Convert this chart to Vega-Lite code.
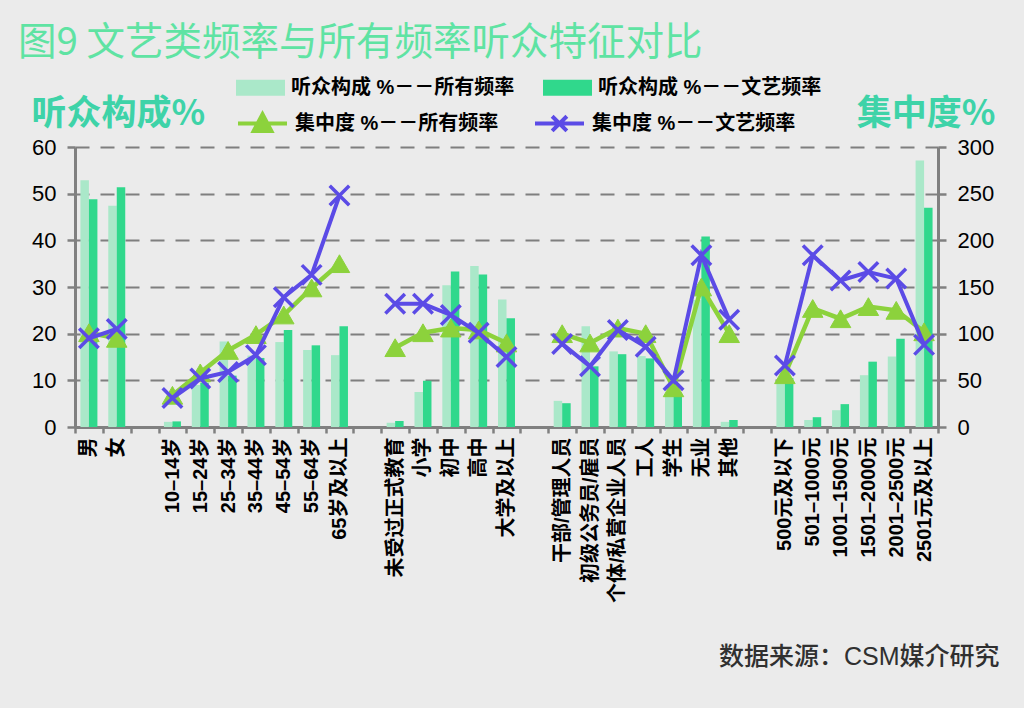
{
  "$schema": "https://vega.github.io/schema/vega-lite/v6.json",
  "width": 863,
  "height": 280,
  "autosize": {"type": "none"},
  "padding": {"left": 75, "top": 147, "right": 86, "bottom": 281},
  "background": "#EBEBEB",
  "title": {
    "text": "图9 文艺类频率与所有频率听众特征对比",
    "anchor": "start",
    "frame": "group",
    "orient": "top",
    "dx": -57,
    "offset": 0,
    "font": "Noto Sans CJK SC",
    "fontSize": 38.5,
    "fontWeight": "normal",
    "color": "#5FE3A3"
  },
  "config": {
    "font": "Liberation Sans, Noto Sans CJK SC",
    "view": {"stroke": null},
    "axis": {
      "domainColor": "#808080",
      "domainWidth": 3,
      "tickColor": "#808080",
      "tickWidth": 2.5,
      "labelColor": "#000000",
      "labelFont": "Liberation Sans, Noto Sans CJK SC"
    },
    "legend": {
      "orient": "none",
      "padding": 0,
      "labelFont": "Liberation Sans, Noto Sans CJK SC",
      "labelFontSize": 20,
      "labelFontWeight": "bold",
      "labelColor": "#000000",
      "labelOffset": 6,
      "symbolSize": 2401,
      "columnPadding": 28,
      "direction": "horizontal",
      "columns": 2,
      "title": null,
      "labelLimit": 400
    }
  },
  "data": {
    "values": [
      {"c": "男", "g": "性别", "a": 52.9, "w": 48.8, "ca": 101, "cw": 95},
      {"c": "女", "g": "性别", "a": 47.4, "w": 51.4, "ca": 95, "cw": 105},
      {"c": "10–14岁", "g": "年龄", "a": 1.1, "w": 1.2, "ca": 34, "cw": 31},
      {"c": "15–24岁", "g": "年龄", "a": 9.0, "w": 9.5, "ca": 58, "cw": 52},
      {"c": "25–34岁", "g": "年龄", "a": 18.3, "w": 11.0, "ca": 82, "cw": 59},
      {"c": "35–44岁", "g": "年龄", "a": 15.3, "w": 14.8, "ca": 99, "cw": 77},
      {"c": "45–54岁", "g": "年龄", "a": 18.2, "w": 20.8, "ca": 120, "cw": 139},
      {"c": "55–64岁", "g": "年龄", "a": 16.5, "w": 17.5, "ca": 149, "cw": 163},
      {"c": "65岁及以上", "g": "年龄", "a": 15.4, "w": 21.6, "ca": 175, "cw": 248},
      {"c": "未受过正式教育", "g": "学历", "a": 0.9, "w": 1.3, "ca": 85, "cw": 132},
      {"c": "小学", "g": "学历", "a": 7.5, "w": 9.9, "ca": 101, "cw": 132},
      {"c": "初中", "g": "学历", "a": 30.4, "w": 33.3, "ca": 106, "cw": 120},
      {"c": "高中", "g": "学历", "a": 34.5, "w": 32.7, "ca": 104, "cw": 101},
      {"c": "大学及以上", "g": "学历", "a": 27.3, "w": 23.3, "ca": 90, "cw": 75},
      {"c": "干部/管理人员", "g": "职业", "a": 5.6, "w": 5.1, "ca": 100, "cw": 89},
      {"c": "初级公务员/雇员", "g": "职业", "a": 21.6, "w": 13.0, "ca": 90, "cw": 65},
      {"c": "个体/私营企业人员", "g": "职业", "a": 16.2, "w": 15.6, "ca": 106, "cw": 104},
      {"c": "工人", "g": "职业", "a": 15.2, "w": 14.7, "ca": 100, "cw": 86},
      {"c": "学生", "g": "职业", "a": 7.0, "w": 7.3, "ca": 42, "cw": 50},
      {"c": "无业", "g": "职业", "a": 27.2, "w": 40.8, "ca": 150, "cw": 184},
      {"c": "其他", "g": "职业", "a": 1.1, "w": 1.5, "ca": 100, "cw": 115},
      {"c": "500元及以下", "g": "收入", "a": 10.0, "w": 10.5, "ca": 56, "cw": 66},
      {"c": "501–1000元", "g": "收入", "a": 1.5, "w": 2.1, "ca": 127, "cw": 184},
      {"c": "1001–1500元", "g": "收入", "a": 3.6, "w": 4.9, "ca": 116, "cw": 157},
      {"c": "1501–2000元", "g": "收入", "a": 11.1, "w": 14.0, "ca": 129, "cw": 166},
      {"c": "2001–2500元", "g": "收入", "a": 15.1, "w": 18.9, "ca": 125, "cw": 159},
      {"c": "2501元及以上", "g": "收入", "a": 57.1, "w": 47.0, "ca": 102, "cw": 88}
    ]
  },
  "encoding": {
    "x": {
      "field": "c",
      "type": "nominal",
      "sort": null,
      "scale": {
        "domain": ["男", "女", " ", "10–14岁", "15–24岁", "25–34岁", "35–44岁", "45–54岁", "55–64岁", "65岁及以上", "  ", "未受过正式教育", "小学", "初中", "高中", "大学及以上", "   ", "干部/管理人员", "初级公务员/雇员", "个体/私营企业人员", "工人", "学生", "无业", "其他", "    ", "500元及以下", "501–1000元", "1001–1500元", "1501–2000元", "2001–2500元", "2501元及以上"],
        "paddingInner": 0,
        "paddingOuter": 0
      },
      "axis": {
        "labelAngle": 270,
        "labelAlign": "right",
        "labelBaseline": "middle",
        "labelFontSize": 20,
        "labelFontWeight": "bold",
        "labelPadding": 4,
        "labelOverlap": false,
        "labelLimit": 300,
        "tickSize": 6,
        "tickBand": "extent",
        "grid": false,
        "title": "数据来源：CSM媒介研究",
        "titleAnchor": "start",
        "titleAngle": 0,
        "titleAlign": "right",
        "titleBaseline": "middle",
        "titleX": 924,
        "titleY": 229,
        "titleFont": "Liberation Sans, Noto Sans CJK SC",
        "titleFontSize": 25,
        "titleFontWeight": 500,
        "titleColor": "#303030"
      }
    }
  },
  "layer": [
    {
      "transform": [{"fold": ["a", "w"], "as": ["s", "v"]}],
      "mark": {"type": "bar"},
      "encoding": {
        "xOffset": {
          "field": "s",
          "type": "nominal",
          "scale": {"domain": ["a", "w"], "paddingInner": 0, "paddingOuter": 0.64}
        },
        "y": {
          "field": "v",
          "type": "quantitative",
          "scale": {"domain": [0, 60], "nice": false},
          "axis": {
            "orient": "left",
            "values": [0, 10, 20, 30, 40, 50, 60],
            "labelFontSize": 22,
            "labelPadding": 11,
            "tickSize": 8,
            "grid": true,
            "gridDash": [14, 11],
            "gridColor": "#7F7F7F",
            "gridWidth": 2,
            "title": "听众构成%",
            "titleAngle": 0,
            "titleAlign": "left",
            "titleBaseline": "middle",
            "titleX": -44,
            "titleY": -34,
            "titleFont": "Noto Sans CJK SC",
            "titleFontSize": 35,
            "titleFontWeight": "bold",
            "titleColor": "#3ED3A8"
          }
        },
        "fill": {
          "field": "s",
          "type": "nominal",
          "scale": {"domain": ["a", "w"], "range": ["#AAE8C9", "#30D88C"]},
          "legend": {
            "legendX": 161,
            "legendY": -84,
            "symbolType": "M-1,-0.33H1V0.33H-1Z",
            "symbolStrokeWidth": 0,
            "labelExpr": "datum.value == 'a' ? '听众构成 %－－所有频率' : '听众构成 %－－文艺频率'"
          }
        }
      }
    },
    {
      "transform": [{"fold": ["ca", "cw"], "as": ["s", "v"]}],
      "encoding": {
        "y": {
          "field": "v",
          "type": "quantitative",
          "scale": {"domain": [0, 300], "nice": false},
          "axis": {
            "orient": "right",
            "values": [0, 50, 100, 150, 200, 250, 300],
            "labelFontSize": 22,
            "labelPadding": 11,
            "tickSize": 8,
            "grid": false,
            "title": "集中度%",
            "titleAngle": 0,
            "titleAlign": "right",
            "titleBaseline": "middle",
            "titleX": 57,
            "titleY": -34,
            "titleFont": "Noto Sans CJK SC",
            "titleFontSize": 35,
            "titleFontWeight": "bold",
            "titleColor": "#3ED3A8"
          }
        },
        "stroke": {
          "field": "s",
          "type": "nominal",
          "scale": {"domain": ["ca", "cw"], "range": ["#8CD23C", "#5B4BE6"]},
          "legend": {
            "legendX": 161,
            "legendY": -50,
            "symbolStrokeWidth": 4,
            "labelExpr": "datum.value == 'ca' ? '集中度 %－－所有频率' : '集中度 %－－文艺频率'",
            "encode": {
              "symbols": {
                "update": {
                  "shape": {"signal": "datum.value == 'ca' ? 'M-1,0H1M0,-0.38L0.36,0.3L-0.36,0.3Z' : 'M-1,0H1M-0.3,-0.3L0.3,0.3M-0.3,0.3L0.3,-0.3'"},
                  "fill": {"signal": "datum.value == 'ca' ? '#8CD23C' : 'transparent'"},
                  "strokeWidth": {"value": 4},
                  "opacity": {"value": 1}
                }
              }
            }
          }
        },
        "detail": {"field": "g", "type": "nominal"},
        "order": {"value": null}
      },
      "layer": [
        {
          "transform": [{"filter": "datum.s == 'ca'"}],
          "mark": {"type": "line", "strokeWidth": 4.5}
        },
        {
          "transform": [{"filter": "datum.s == 'ca'"}],
          "mark": {"type": "point", "shape": "triangle-up", "filled": true, "fill": "#8CD23C", "size": 420, "opacity": 1, "strokeWidth": 1}
        },
        {
          "transform": [{"filter": "datum.s == 'cw'"}],
          "mark": {"type": "line", "strokeWidth": 4}
        },
        {
          "transform": [{"filter": "datum.s == 'cw'"}],
          "mark": {"type": "point", "shape": "M-1,-1L1,1M-1,1L1,-1", "filled": false, "size": 380, "opacity": 1, "strokeWidth": 3.5}
        }
      ]
    }
  ],
  "resolve": {"scale": {"y": "independent"}}
}
